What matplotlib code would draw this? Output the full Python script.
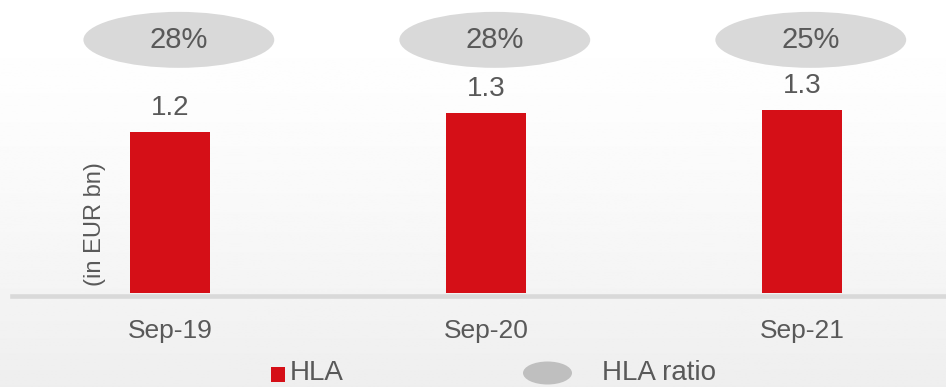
import numpy as np
import matplotlib.pyplot as plt
from matplotlib.patches import Ellipse, Rectangle
from matplotlib import transforms

plt.rcParams['font.family'] = ['Liberation Sans', 'DejaVu Sans']

# HLA volume (EUR bn) and HLA ratio per period
periods = ['Sep-19', 'Sep-20', 'Sep-21']
hla = [1.17, 1.31, 1.33]
hla_ratio = [28, 28, 25]

txt = '#595959'
red = '#d50f17'
grey_bubble = '#d9d9d9'

fig = plt.figure(figsize=(9.46, 3.87), dpi=100)

# soft white-to-grey backdrop
bg = fig.add_axes([0, 0, 1, 1], zorder=-10)
grad = 255 - 17 * np.linspace(0, 1, 256) ** 1.5
bg.imshow(np.tile(grad[:, None], (1, 2)), cmap='gray', vmin=0, vmax=255,
          aspect='auto', extent=[0, 1, 1, 0])
bg.axis('off')

ax = fig.add_axes([12 / 946, 94 / 387, 934 / 946, 293 / 387])
ax.patch.set_alpha(0)
x = np.arange(len(periods))
ax.bar(x, hla, width=0.253, color=red, zorder=3)
ax.set_xlim(-0.5, 2.456)
ax.set_ylim(0, 2.129)

for xi, v in zip(x, hla):
    ax.annotate(f'{v:.1f}', (xi, v), xytext=(0, 8), textcoords='offset points',
                ha='center', va='bottom', fontsize=20, color=txt)

# ratio bubbles along the top
trans = transforms.blended_transform_factory(ax.transData, ax.transAxes)
for xi, r in zip(x, hla_ratio):
    ax.add_patch(Ellipse((xi + 0.028, 0.864), 0.604, 0.191, transform=trans,
                         facecolor=grey_bubble, edgecolor='none', clip_on=False))
    ax.text(xi + 0.028, 0.864, f'{r}%', transform=trans, ha='center',
            va='center', fontsize=21, color=txt)

ax.text(-0.237, 0.235, '(in EUR bn)', transform=trans, rotation=90,
        ha='center', va='center', fontsize=17, color=txt)

for s in ['top', 'right', 'left']:
    ax.spines[s].set_visible(False)
ax.spines['bottom'].set_color('#d9d9d9')
ax.spines['bottom'].set_linewidth(3.3)
ax.spines['bottom'].set_position(('outward', 1.8))
ax.set_yticks([])
ax.set_xticks(x)
ax.set_xticklabels(periods, fontsize=19, color=txt)
ax.tick_params(axis='x', length=0, pad=17)

# legend at the bottom edge
fig.add_artist(Rectangle((271 / 946, 5 / 387), 14 / 946, 15 / 387,
                         transform=fig.transFigure, facecolor=red, edgecolor='none'))
fig.text(290 / 946, 1 / 387, 'HLA', fontsize=20, color=txt, va='bottom')
fig.add_artist(Ellipse((547.5 / 946, 14 / 387), 49 / 946, 23 / 387,
                       transform=fig.transFigure, facecolor='#bfbfbf', edgecolor='none'))
fig.text(602 / 946, 1 / 387, 'HLA ratio', fontsize=20, color=txt, va='bottom')

fig.savefig('out.png', dpi=100)
